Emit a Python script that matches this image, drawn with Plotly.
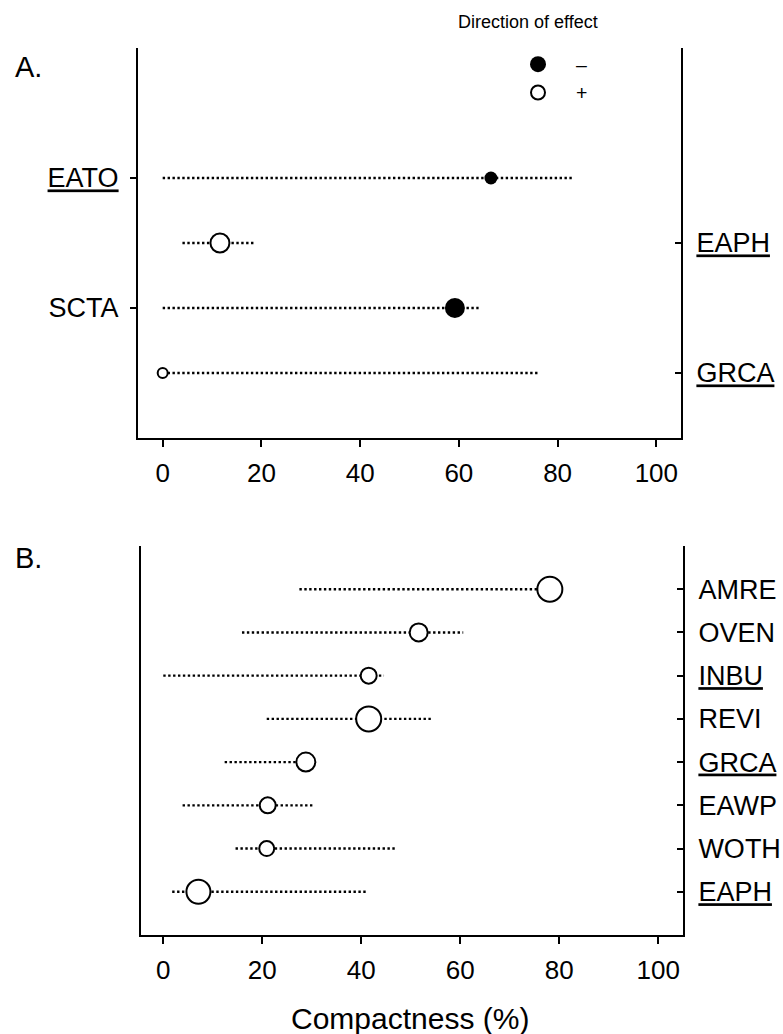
import plotly.graph_objects as go

# ---------------- data ----------------
# Panel A
a_species = ["EATO", "EAPH", "SCTA", "GRCA"]
a_underlined = [True, True, False, True]
a_label_side = ["left", "right", "left", "right"]
a_estimate = [66.5, 11.6, 59.2, 0.0]
a_low = [0.0, 4.0, 0.0, 0.0]
a_high = [83.2, 18.5, 64.0, 76.3]
a_direction = ["-", "+", "-", "+"]
a_point_size = [13, 21, 20, 12]

# Panel B
b_species = ["AMRE", "OVEN", "INBU", "REVI", "GRCA", "EAWP", "WOTH", "EAPH"]
b_underlined = [False, False, True, False, True, False, False, True]
b_estimate = [78.1, 51.6, 41.5, 41.5, 28.8, 21.1, 20.9, 7.1]
b_low = [27.5, 15.9, 0.0, 20.9, 12.4, 3.9, 14.6, 1.8]
b_high = [78.1, 60.6, 44.6, 54.5, 28.8, 30.6, 46.8, 41.0]
b_direction = ["+", "+", "+", "+", "+", "+", "+", "+"]
b_point_size = [27, 20, 18, 27, 21, 18, 17, 26]

x_ticks = [0, 20, 40, 60, 80, 100]
legend_labels = {"-": "\u2013", "+": "+"}

# ---------------- styling ----------------
W, H = 783, 1034
FONT = "Liberation Sans, Arial, sans-serif"
DOT = "2.4px,2.5px"


def px_x(p):
    return p / W


def px_y(p):
    return 1 - p / H


def label(name, underline):
    return f"<u>{name}</u>" if underline else name


fig = go.Figure()


def add_panel(species, est, low, high, direction, sizes, xref, yline, ymark):
    n = len(species)
    ypos = [n - i for i in range(n)]
    lx, ly = [], []
    for lo, hi, y in zip(low, high, ypos):
        lx += [lo, hi, None]
        ly += [y, y, None]
    fig.add_trace(go.Scatter(
        x=lx, y=ly, mode="lines", xaxis=xref, yaxis=yline,
        line=dict(color="black", width=2.4, dash=DOT),
        hoverinfo="skip", showlegend=False))
    for sign in ["-", "+"]:
        idx = [i for i in range(n) if direction[i] == sign]
        if not idx:
            continue
        filled = sign == "-"
        fig.add_trace(go.Scatter(
            x=[est[i] for i in idx], y=[ypos[i] for i in idx],
            mode="markers", xaxis=xref, yaxis=ymark, showlegend=False,
            cliponaxis=False,
            marker=dict(
                size=[sizes[i] if filled else sizes[i] - 2 for i in idx],
                opacity=1,
                color="black" if filled else "white",
                line=dict(color="black", width=0 if filled else 2)),
        ))
    return ypos


a_pos = add_panel(a_species, a_estimate, a_low, a_high, a_direction,
                  a_point_size, "x", "y", "y2")
b_pos = add_panel(b_species, b_estimate, b_low, b_high, b_direction,
                  b_point_size, "x2", "y3", "y4")

# legend entries (direction of effect)
fig.add_trace(go.Scatter(x=[None], y=[None], mode="markers", name=legend_labels["-"],
                         marker=dict(size=17, color="black", opacity=1)))
fig.add_trace(go.Scatter(x=[None], y=[None], mode="markers", name=legend_labels["+"],
                         marker=dict(size=14, color="white", opacity=1,
                                     line=dict(color="black", width=2))))

axis_common = dict(showgrid=False, zeroline=False, showline=True,
                   linecolor="black", linewidth=2, color="black",
                   tickfont=dict(family=FONT, size=27, color="black"))

xa = dict(axis_common, range=[-5, 105], tickvals=x_ticks, ticks="outside",
          ticklen=7, tickwidth=2, tickcolor="black", ticklabelstandoff=4,
          tickfont=dict(family=FONT, size=26, color="black"))

a_left = [i for i in range(len(a_species)) if a_label_side[i] == "left"]
a_right = [i for i in range(len(a_species)) if a_label_side[i] == "right"]

fig.update_layout(
    width=W, height=H, margin=dict(l=0, r=0, t=0, b=0),
    paper_bgcolor="white", plot_bgcolor="white",
    font=dict(family=FONT, color="black"),
    xaxis=dict(xa, domain=[px_x(138), px_x(681)], anchor="y"),
    xaxis2=dict(xa, domain=[px_x(141), px_x(683)], range=[-4.5, 105], anchor="y3"),
    yaxis=dict(axis_common, domain=[px_y(438), px_y(48)], range=[0, 6], anchor="x",
               tickvals=[a_pos[i] for i in a_left],
               ticktext=[label(a_species[i], a_underlined[i]) for i in a_left],
               ticks="outside", ticklen=6, tickwidth=2, tickcolor="black",
               ticklabelstandoff=6),
    yaxis2=dict(axis_common, overlaying="y", side="right", range=[0, 6], anchor="x",
                tickvals=[a_pos[i] for i in a_right],
                ticktext=[label(a_species[i], a_underlined[i]) for i in a_right],
                ticks="inside", ticklen=6, tickwidth=2, tickcolor="black",
                ticklabelstandoff=8),
    yaxis3=dict(axis_common, domain=[px_y(935), px_y(546)], range=[0, 9], anchor="x2",
                showticklabels=False, ticks=""),
    yaxis4=dict(axis_common, overlaying="y3", side="right", range=[0, 9], anchor="x2",
                tickvals=b_pos,
                ticktext=[label(s, u) for s, u in zip(b_species, b_underlined)],
                ticks="inside", ticklen=6, tickwidth=2, tickcolor="black",
                ticklabelstandoff=8),
    showlegend=True,
    legend=dict(x=px_x(500), y=px_y(45), xanchor="left", yanchor="top",
                font=dict(family=FONT, size=19.5, color="black"),
                bgcolor="rgba(0,0,0,0)", itemclick=False, itemdoubleclick=False,
                itemwidth=66, tracegroupgap=0),
)

fig.add_annotation(text="Direction of effect", xref="paper", yref="paper",
                   x=px_x(528), y=px_y(22), showarrow=False,
                   font=dict(family=FONT, size=18, color="black"),
                   xanchor="center", yanchor="middle")
fig.add_annotation(text="A.", xref="paper", yref="paper", x=px_x(13), y=px_y(67),
                   showarrow=False, xanchor="left", yanchor="middle",
                   font=dict(family=FONT, size=29, color="black"))
fig.add_annotation(text="B.", xref="paper", yref="paper", x=px_x(13), y=px_y(558),
                   showarrow=False, xanchor="left", yanchor="middle",
                   font=dict(family=FONT, size=29, color="black"))
fig.add_annotation(text="Compactness (%)", xref="paper", yref="paper",
                   x=px_x(410), y=px_y(1018), showarrow=False,
                   xanchor="center", yanchor="middle",
                   font=dict(family=FONT, size=30, color="black"))

fig.write_html(
    "out.html",
    config={"displayModeBar": False},
    post_script="document.body.style.margin='0';document.body.style.overflow='hidden';",
)
